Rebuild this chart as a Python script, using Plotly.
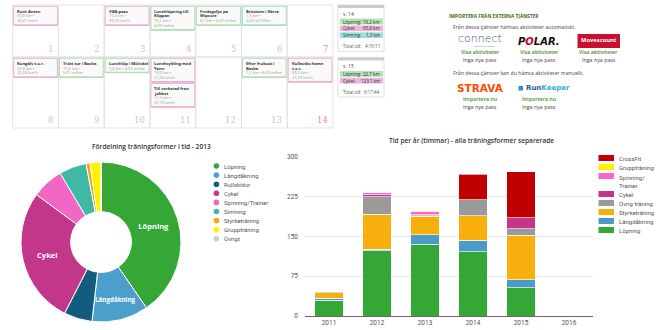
import plotly.graph_objects as go

W, H = 660, 330
def X(px): return px / W
def Y(py): return 1 - py / H

# ---------------- data ----------------
pie_title = "Fördelning träningsformer i tid - 2013"
pie_labels = ['Löpning', 'Längdåkning', 'Rullskidor', 'Cykel', 'Spinning/Trainer',
              'Simning', 'Styrketräning', 'Gruppträning', 'Övrigt']
pie_values = [40.3, 11.4, 5.7, 27.5, 6.4, 5.5, 0.8, 2.2, 0.0]
pie_colors = ['#35a736', '#4c9fca', '#135c7e', '#c2378a', '#f266c4',
              '#3fb8a6', '#f4a50f', '#fff200', '#cccccc']
pie_inside = ['Löpning', 'Längdåkning', '', 'Cykel', '', '', '', '', '']

bar_title = "Tid per år (timmar) - alla träningsformer separerade"
years = ['2011', '2012', '2013', '2014', '2015', '2016']
lopning = [30, 123, 135, 121, 53, 0]
langdakning = [3, 2.5, 18, 22, 15, 0]
styrketraning = [11, 66, 35, 46, 84, 0]
ovrig = [2, 33, 1, 29.5, 12.5, 0]
cykel = [0, 4, 2, 0, 21, 0]
spinning = [0, 4, 5, 0, 0, 0]
gruppträning = [0, 0, 3, 0, 0, 0]
crossfit = [0, 0, 0, 48, 86, 0]
bar_series = [('Löpning', lopning, '#35a736'),
              ('Längdåkning', langdakning, '#4a9bc6'),
              ('Styrketräning', styrketraning, '#f8ae0c'),
              ('Övrig träning', ovrig, '#9a9a9a'),
              ('Cykel', cykel, '#c2378a'),
              ('Spinning/<br>Trainer', spinning, '#ff66c8'),
              ('Gruppträning', gruppträning, '#fff200'),
              ('CrossFit', crossfit, '#c00000')]
y_ticks = [0, 75, 150, 225, 300]

# calendar: (day, title lines, detail lines, kind)
cal_days = list(range(1, 15))
cal_cards = [
    (1, ['Runt Anten'], ['50,8 km •', '20,41 km/h'], 'cyk'),
    (3, ['VAB-pass'], ['15,0 km •', '29,26 km/h'], 'cyk'),
    (4, ['Lunchlöpning till', 'Klippan'], ['10,1 km •', '4:29 m/km'], 'lop'),
    (5, ['Fredagsfys på', 'Wipcore'], ['8,1 km • 4:47 m/km'], 'lop'),
    (6, ['Bröstsim i Kärra'], ['1,3 km •', '2:43 m/100m'], 'sim'),
    (8, ['Kungälv t.o.r.'], ['32,8 km •', '20,68 km/h'], 'cyk'),
    (9, ['Trött tur i Backa'], ['10,5 km •', '5:01 m/km'], 'lop'),
    (10, ['Lunchlöp i Mölndal'], ['5,8 km • 4:55 m/km'], 'lop'),
    (11, ['Lunchcykling med', 'Yann'], ['19,0 km •', '27,40 km/h'], 'cyk'),
    (11, ['Till verkstad från', 'jobbet'], ['11,0 km •', '20,79 km/h'], 'cyk'),
    (13, ['Efter frukost i', 'Backa'], ['7,2 km • 4:49 m/km'], 'lop'),
    (14, ['Kullaviks hamn', 't.o.r.'], ['60,3 km •', '27,29 km/h'], 'cyk'),
]
weeks = [
    ('v. 14', [('Löpning:', '18,2 km', 'lop'), ('Cykel:', '65,8 km', 'cyk'),
               ('Simning:', '1,3 km', 'sim')], '4:16:11'),
    ('v. 15', [('Löpning:', '22,7 km', 'lop'), ('Cykel:', '123,1 km', 'cyk')], '6:17:44'),
]

# ---------------- figure ----------------
fig = go.Figure()
shapes, ann = [], []
FS = 'Open Sans'
FL = 'Roboto'

# pie
fig.add_trace(go.Pie(
    labels=pie_labels, values=pie_values, text=pie_inside, textinfo='text',
    textposition=['inside' if t else 'none' for t in pie_inside],
    insidetextorientation='horizontal',
    textfont=dict(color='white', size=7.5, family=FS, weight='bold'),
    marker=dict(colors=pie_colors, line=dict(color='white', width=1)),
    hole=0.38, sort=False, direction='clockwise', rotation=0,
    domain=dict(x=[X(21), X(181)], y=[Y(322), Y(162)]),
    showlegend=False, hoverinfo='skip'))

# bars
for name, vals, col in bar_series:
    fig.add_trace(go.Bar(x=years, y=vals, name=name,
                         marker=dict(color=col, line=dict(color='rgba(255,255,255,0.8)', width=0.8)),
                         width=0.6, showlegend=False, hoverinfo='skip'))

fig.update_layout(
    width=W, height=H, margin=dict(l=0, r=0, t=0, b=0),
    paper_bgcolor='white', plot_bgcolor='white', barmode='stack',
    xaxis=dict(domain=[X(305), X(593)], type='category', range=[-0.5, 5.5],
               showline=True, linecolor='#666', linewidth=1, ticks='',
               tickfont=dict(size=6.5, color='#555', family=FL), automargin=False,
               showgrid=False, fixedrange=True),
    yaxis=dict(domain=[Y(316), Y(156.7)], range=[0, 300], tickvals=y_ticks,
               showgrid=True, gridcolor='#e6e6e6', gridwidth=1, zeroline=False,
               tickfont=dict(size=6.5, color='#555', family=FL), automargin=False,
               ticklabelstandoff=6, fixedrange=True),
)

# titles
ann.append(dict(x=X(151), y=Y(146), text=pie_title, showarrow=False, xanchor='center', yanchor='middle',
                font=dict(size=6.6, color='#333', family=FS, weight=600)))
ann.append(dict(x=X(471), y=Y(140), text=bar_title, showarrow=False, xanchor='center', yanchor='middle',
                font=dict(size=6.6, color='#333', family=FS, weight=600)))

# pie legend
for i, (lab, col) in enumerate(zip(pie_labels, pie_colors)):
    yy = 166 + i * 9.1
    shapes.append(dict(type='circle', xref='paper', yref='paper', x0=X(213.6), x1=X(219.2),
                       y0=Y(yy + 2.8), y1=Y(yy - 2.8), fillcolor=col, line=dict(width=0)))
    ann.append(dict(x=X(222), y=Y(yy), text=lab, showarrow=False, xanchor='left', yanchor='middle',
                    font=dict(size=6, color='#555', family=FL)))

# bar legend (top = last series)
yy = 158
for name, vals, col in reversed(bar_series):
    shapes.append(dict(type='rect', xref='paper', yref='paper', x0=X(598.5), x1=X(614),
                       y0=Y(yy + 3), y1=Y(yy - 3), fillcolor=col, line=dict(width=0)))
    ann.append(dict(x=X(617), y=Y(yy), text=name, showarrow=False, xanchor='left',
                    yanchor='top' if '<br>' in name else 'middle',
                    yshift=4 if '<br>' in name else 0,
                    font=dict(size=6, color='#555', family=FL), align='left'))
    yy += 18 if '<br>' in name else 9

# calendar grid
cx0, cw = 12.7, 45.75
rows = [(5, 57), (57, 128)]
kind_line = {'cyk': '#e7b2d4', 'lop': '#b2deb2', 'sim': '#9fdcd8'}
kind_bg = {'cyk': '#eab6dc', 'lop': '#b6e2b6', 'sim': '#a2dfda'}
for (r0, r1) in rows:
    for c in range(7):
        shapes.append(dict(type='rect', xref='paper', yref='paper', x0=X(cx0 + c * cw), x1=X(cx0 + (c + 1) * cw),
                           y0=Y(r1), y1=Y(r0), line=dict(color='#e2e2e2', width=1), fillcolor='rgba(0,0,0,0)'))
for d in cal_days:
    r, c = divmod(d - 1, 7)
    r0, r1 = rows[r]
    ann.append(dict(x=X(cx0 + (c + 1) * cw - 3), y=Y(r1 - 1), text=str(d), showarrow=False,
                    xanchor='right', yanchor='bottom',
                    font=dict(size=8.5, color='#f08a8a' if c == 6 else '#c8c8c8', family='DejaVu Serif')))
stack_bottom = {}
LS = 4.7
for d, tlines, dlines, kind in cal_cards:
    r, c = divmod(d - 1, 7)
    r0, r1 = rows[r]
    top = stack_bottom.get(d, r0 + 1.3)
    n = len(tlines) + len(dlines)
    bot = top + 5 + (n - 1) * LS + 4.5
    left, right = cx0 + c * cw + 1, cx0 + (c + 1) * cw - 1
    shapes.append(dict(type='rect', xref='paper', yref='paper', x0=X(left), x1=X(right), y0=Y(bot), y1=Y(top),
                       fillcolor='#fafafa', line=dict(color=kind_line[kind], width=1)))
    shapes.append(dict(type='line', xref='paper', yref='paper', x0=X(left), x1=X(right), y0=Y(bot), y1=Y(bot),
                       line=dict(color=kind_line[kind], width=1.6)))
    ly = top + 5
    for t in tlines:
        ann.append(dict(x=X(left + 1.5), y=Y(ly), text=t, showarrow=False, xanchor='left', yanchor='middle',
                        font=dict(size=4.1, color='#333', family=FS, weight='bold')))
        ly += LS
    for t in dlines:
        ann.append(dict(x=X(left + 1.5), y=Y(ly), text=t, showarrow=False, xanchor='left', yanchor='middle',
                        font=dict(size=4.0, color='#999', family=FS)))
        ly += LS
    stack_bottom[d] = bot + 1.5

# week summaries
wtop = 5
for wname, items, tot in weeks:
    hgt = 16 + len(items) * 6.8 + 10
    shapes.append(dict(type='rect', xref='paper', yref='paper', x0=X(338), x1=X(384), y0=Y(wtop + hgt), y1=Y(wtop),
                       fillcolor='white', line=dict(color='#e0e0e0', width=1)))
    shapes.append(dict(type='rect', xref='paper', yref='paper', x0=X(338), x1=X(384), y0=Y(wtop + 3), y1=Y(wtop),
                       fillcolor='#cccccc', line=dict(width=0)))
    ann.append(dict(x=X(340.5), y=Y(wtop + 9), text=wname, showarrow=False, xanchor='left', yanchor='middle',
                    font=dict(size=5, color='#444', family=FS)))
    iy = wtop + 16.5
    for lab, val, kind in items:
        shapes.append(dict(type='rect', xref='paper', yref='paper', x0=X(340), x1=X(383), y0=Y(iy + 2.9), y1=Y(iy - 2.9),
                           fillcolor=kind_bg[kind], line=dict(width=0)))
        ann.append(dict(x=X(341), y=Y(iy), text=lab, showarrow=False, xanchor='left', yanchor='middle',
                        font=dict(size=4.5, color='#333', family=FS)))
        ann.append(dict(x=X(382), y=Y(iy), text=val, showarrow=False, xanchor='right', yanchor='middle',
                        font=dict(size=4.5, color='#333', family=FS)))
        iy += 6.8
    ann.append(dict(x=X(341), y=Y(wtop + hgt - 5.5), text='Total tid:', showarrow=False, xanchor='left',
                    yanchor='middle', font=dict(size=4.5, color='#555', family=FS)))
    ann.append(dict(x=X(382), y=Y(wtop + hgt - 5.5), text=tot, showarrow=False, xanchor='right', yanchor='middle',
                    font=dict(size=4.5, color='#555', family=FS)))
    wtop += hgt + 6

# import section
ann.append(dict(x=X(446.5), y=Y(15.5), text='IMPORTERA FRÅN EXTERNA TJÄNSTER', showarrow=False, xanchor='left',
                yanchor='middle', font=dict(size=4.8, color='#3d6b1f', family=FS, weight='bold')))
ann.append(dict(x=X(451), y=Y(26.7), text='Från dessa tjänster hämtas aktiviteter automatiskt.', showarrow=False,
                xanchor='left', yanchor='middle', font=dict(size=5.2, color='#444', family=FS)))
ann.append(dict(x=X(451), y=Y(73.3), text='Från dessa tjänster kan du hämta aktiviteter manuellt.', showarrow=False,
                xanchor='left', yanchor='middle', font=dict(size=5.2, color='#444', family=FS)))
# logos row 1
ann.append(dict(x=X(480), y=Y(38.8), text='connect', showarrow=False, xanchor='center', yanchor='middle',
                font=dict(size=11, color='#3a5a78', family='DejaVu Sans', weight=300)))
ann.append(dict(x=X(485), y=Y(46.3), text='powered by Garmin', showarrow=False, xanchor='center', yanchor='middle',
                font=dict(size=2.3, color='#777', family=FS)))
ann.append(dict(x=X(539), y=Y(41), text='<i>P<span style="color:#d0021b">O</span>LAR.</i>', showarrow=False,
                xanchor='center', yanchor='middle', font=dict(size=10, color='#111', family='DejaVu Sans', weight='bold')))
shapes.append(dict(type='rect', xref='paper', yref='paper', x0=X(577.5), x1=X(620), y0=Y(48), y1=Y(34),
                   fillcolor='#c8102e', line=dict(width=0)))
ann.append(dict(x=X(598.5), y=Y(40.5), text='Movescount', showarrow=False, xanchor='center', yanchor='middle',
                font=dict(size=5.8, color='white', family=FS, weight='bold')))
for cxp in (480, 539, 598.5):
    ann.append(dict(x=X(cxp), y=Y(52.3), text='Visa aktiviteter', showarrow=False, xanchor='center', yanchor='middle',
                    font=dict(size=5.3, color='#4e8a2c', family=FS, weight=600)))
    ann.append(dict(x=X(cxp), y=Y(60), text='Inga nya pass', showarrow=False, xanchor='center', yanchor='middle',
                    font=dict(size=5.3, color='#444', family=FS)))
# logos row 2
ann.append(dict(x=X(480), y=Y(88.3), text='STRAVA', showarrow=False, xanchor='center', yanchor='middle',
                font=dict(size=10.5, color='#fc4c02', family='DejaVu Sans', weight='bold')))
shapes.append(dict(type='rect', xref='paper', yref='paper', x0=X(518.5), x1=X(523), y0=Y(90.5), y1=Y(86),
                   fillcolor='#2d8fd0', line=dict(width=0)))
ann.append(dict(x=X(524), y=Y(88.3), text='<span style="color:#1d5f8f">Run</span><span style="color:#35a7e0">Keeper</span>',
                showarrow=False, xanchor='left', yanchor='middle',
                font=dict(size=7, family='DejaVu Sans', weight='bold')))
for cxp in (480, 539):
    ann.append(dict(x=X(cxp), y=Y(99), text='Importera nu', showarrow=False, xanchor='center', yanchor='middle',
                    font=dict(size=5.3, color='#4e8a2c', family=FS, weight=600)))
    ann.append(dict(x=X(cxp), y=Y(107), text='Inga nya pass', showarrow=False, xanchor='center', yanchor='middle',
                    font=dict(size=5.3, color='#444', family=FS)))

for a in ann:
    a.setdefault('xref', 'paper')
    a.setdefault('yref', 'paper')
fig.update_layout(shapes=shapes, annotations=ann)
fig.write_html("out.html")
